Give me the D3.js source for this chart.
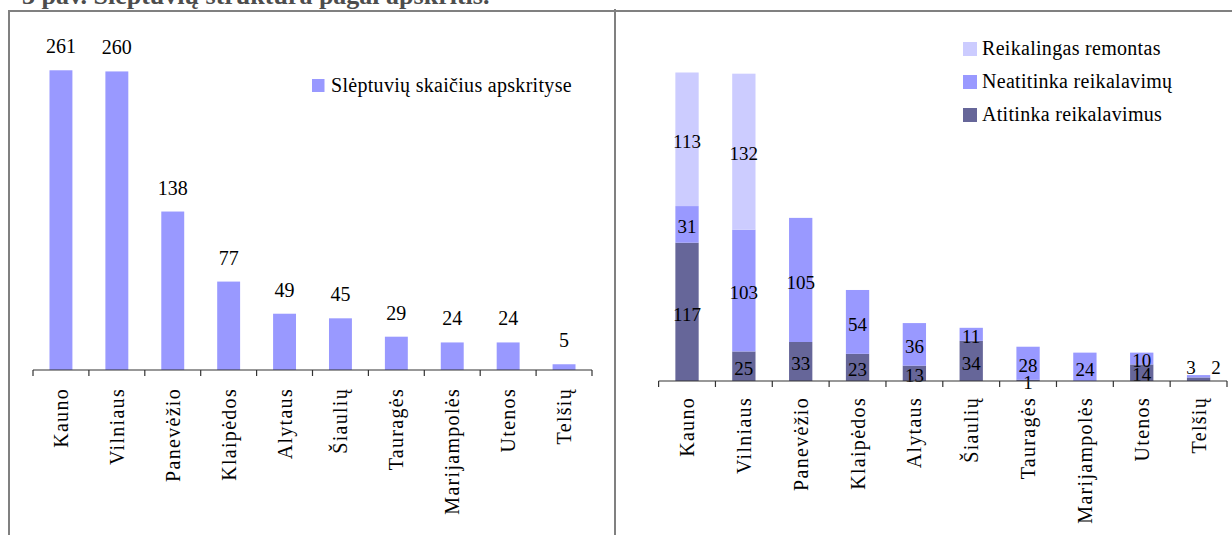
<!DOCTYPE html>
<html>
<head>
<meta charset="utf-8">
<script src="https://cdn.jsdelivr.net/npm/d3@7/dist/d3.min.js"></script>
<style>
  html, body { margin: 0; padding: 0; background: #fff; }
  svg { display: block; font-family: "Liberation Serif", "Times New Roman", serif; }
</style>
</head>
<body>
<svg id="chart" width="1232" height="535"></svg>
<script>
// ---- data ----
const categories = ["Kauno","Vilniaus","Panevėžio","Klaipėdos","Alytaus","Šiaulių","Tauragės","Marijampolės","Utenos","Telšių"];
const totals = [261,260,138,77,49,45,29,24,24,5];
const atitinka = [117,25,33,23,13,34,1,0,14,3];
const neatitinka = [31,103,105,54,36,11,28,24,10,2];
const remontas = [113,132,0,0,0,0,0,0,0,0];
const seriesNames = ["Atitinka reikalavimus","Neatitinka reikalavimų","Reikalingas remontas"];
const leftLegend = "Slėptuvių skaičius apskrityse";
const title = "3 pav. Slėptuvių struktūra pagal apskritis.";
const colors = {total:"#9999FF", a:"#666699", n:"#9999FF", r:"#CCCCFF"};

const svg = d3.select("#chart");

// ---- frame ----
const frame = "#808080";
svg.append("line").attr("x1",8).attr("x2",1232).attr("y1",11).attr("y2",11).attr("stroke",frame).attr("stroke-width",2);
svg.append("line").attr("x1",9).attr("x2",9).attr("y1",10).attr("y2",535).attr("stroke",frame).attr("stroke-width",2);
svg.append("line").attr("x1",615).attr("x2",615).attr("y1",9).attr("y2",535).attr("stroke",frame).attr("stroke-width",2);

svg.append("text").attr("x",22).attr("y",4).attr("font-size",26).attr("font-weight","bold")
  .attr("fill","#4d4d4d").text(title);

function band(range){
  return d3.scaleBand().domain(categories).range(range).paddingInner(0.59).paddingOuter(0.295);
}
function drawAxis(x, y0, labelOffset){
  const g = svg.append("g");
  const r = x.range();
  g.append("line").attr("x1",r[0]).attr("x2",r[1]).attr("y1",y0).attr("y2",y0).attr("stroke","#333").attr("stroke-width",1.2);
  const step = x.step();
  d3.range(categories.length+1).forEach(i=>{
    const xx = r[0] + i*step;
    g.append("line").attr("x1",xx).attr("x2",xx).attr("y1",y0).attr("y2",y0+6).attr("stroke","#333").attr("stroke-width",1.2);
  });
  categories.forEach(c=>{
    const cx = x(c) + x.bandwidth()/2;
    g.append("text").attr("transform",`translate(${cx},${y0+labelOffset}) rotate(-90)`)
      .attr("text-anchor","end").attr("dy","0.35em").attr("font-size",20)
      .attr("letter-spacing","1.3px").attr("fill","#000").text(c);
  });
}

// ---- left chart ----
const xL = band([33,592]);
const yL = d3.scaleLinear().domain([0,300]).range([370,25.5]);
svg.append("g").selectAll("rect").data(categories).join("rect")
  .attr("x",d=>xL(d)).attr("width",xL.bandwidth())
  .attr("y",(d,i)=>yL(totals[i])).attr("height",(d,i)=>yL(0)-yL(totals[i]))
  .attr("fill",colors.total);
svg.append("g").selectAll("text").data(categories).join("text")
  .attr("x",d=>xL(d)+xL.bandwidth()/2).attr("y",(d,i)=>yL(totals[i])-17)
  .attr("text-anchor","middle").attr("font-size",20).text((d,i)=>totals[i]);
drawAxis(xL, 370, 18);
svg.append("rect").attr("x",312).attr("y",79).attr("width",12.5).attr("height",13).attr("fill",colors.total);
svg.append("text").attr("x",331).attr("y",92).attr("font-size",20).attr("letter-spacing","0.3px").text(leftLegend);

// ---- right chart ----
const xR = band([658.6,1227]);
const yR = d3.scaleLinear().domain([0,300]).range([381,26.4]);
const stackRows = categories.map((c,i)=>({cat:c, a:atitinka[i], n:neatitinka[i], r:remontas[i]}));
const stack = d3.stack().keys(["a","n","r"])(stackRows);
const gR = svg.append("g");
stack.forEach(layer=>{
  gR.append("g").selectAll("rect").data(layer).join("rect")
    .attr("x",d=>xR(d.data.cat)).attr("width",xR.bandwidth())
    .attr("y",d=>yR(d[1])).attr("height",d=>yR(d[0])-yR(d[1]))
    .attr("fill",colors[layer.key]);
});
// labels
stack.forEach((layer,li)=>{
  layer.forEach((d,i)=>{
    const v = d[1]-d[0];
    if (v<=0) return;
    const cx = xR(d.data.cat)+xR.bandwidth()/2;
    let x = cx, y = (yR(d[0])+yR(d[1]))/2 + 2.5;
    if (totals[i] < 8) { // tiny stack: labels placed side by side above
      x = li===0 ? cx-7.5 : cx+17.5;
      y = yR(totals[i]) - 7;
    }
    gR.append("text").attr("x",x).attr("y",y+6.5-6.5).attr("dy","0.33em")
      .attr("text-anchor","middle").attr("font-size",19).text(v);
  });
});
drawAxis(xR, 381, 16);
// legend (top to bottom: remontas, neatitinka, atitinka)
const legendKeys = ["r","n","a"];
const legendNames = [seriesNames[2], seriesNames[1], seriesNames[0]];
legendKeys.forEach((k,i)=>{
  svg.append("rect").attr("x",963).attr("y",42+i*33).attr("width",14).attr("height",14).attr("fill",colors[k]);
  svg.append("text").attr("x",982).attr("y",55+i*33).attr("font-size",20).attr("letter-spacing","0.3px").text(legendNames[i]);
});
</script>
</body>
</html>
